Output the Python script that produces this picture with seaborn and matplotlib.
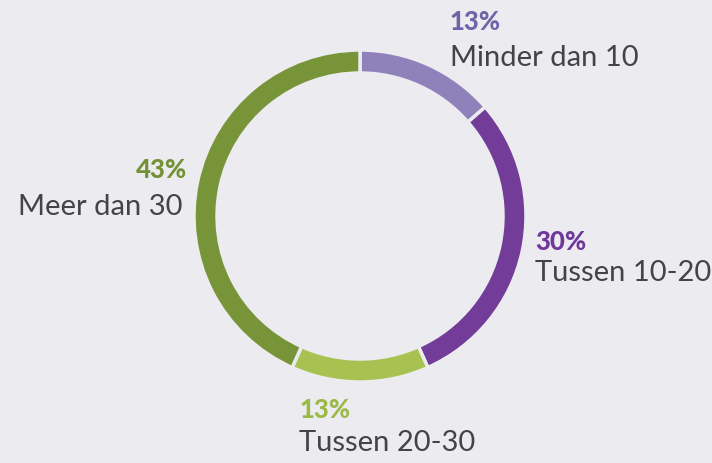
import matplotlib
matplotlib.use("Agg")
import matplotlib.pyplot as plt
import seaborn as sns

categories = ["Minder dan 10", "Tussen 10-20", "Tussen 20-30", "Meer dan 30"]
values = [13.6, 29.7, 13.4, 43.3]
pct_labels = ["13%", "30%", "13%", "43%"]
colors = ["#8f82bb", "#723c98", "#a7c251", "#779438"]
text_colors = ["#6f64a8", "#70389a", "#9bba45", "#739135"]

BG = "#ebebf0"
sns.set_theme(style="white", rc={"figure.facecolor": BG, "axes.facecolor": BG})
plt.rcParams["font.family"] = ["Lato", "DejaVu Sans"]

fig = plt.figure(figsize=(7.12, 4.63), dpi=100)
ax = fig.add_axes([0, 0, 1, 1])

cx, cy, R = 360, 463 - 216, 166
ax.pie(values, colors=colors, startangle=90, counterclock=False,
       center=(cx, cy), radius=R, frame=True,
       wedgeprops=dict(width=23, edgecolor=BG, linewidth=2.5))
ax.set_xlim(0, 712)
ax.set_ylim(0, 463)
ax.set_aspect("equal")
ax.axis("off")

# label anchor positions (pixel coords from top-left)
pos = [
    (450, 450, 22, 58, "left"),
    (535, 535, 242, 273, "left"),
    (300, 299, 410, 443, "left"),
    (187, 182, 170, 207, "right"),
]
for (xp, xl, yp, yl, ha), pl, cat, tc in zip(pos, pct_labels, categories, text_colors):
    ax.text(xp, 463 - yp, pl, ha=ha, va="center", fontsize=18.5, fontweight="black",
            color=tc)
    ax.text(xl, 463 - yl, cat, ha=ha, va="center", fontsize=21, color="#444444")

fig.savefig("out.png", dpi=100, facecolor=BG)
